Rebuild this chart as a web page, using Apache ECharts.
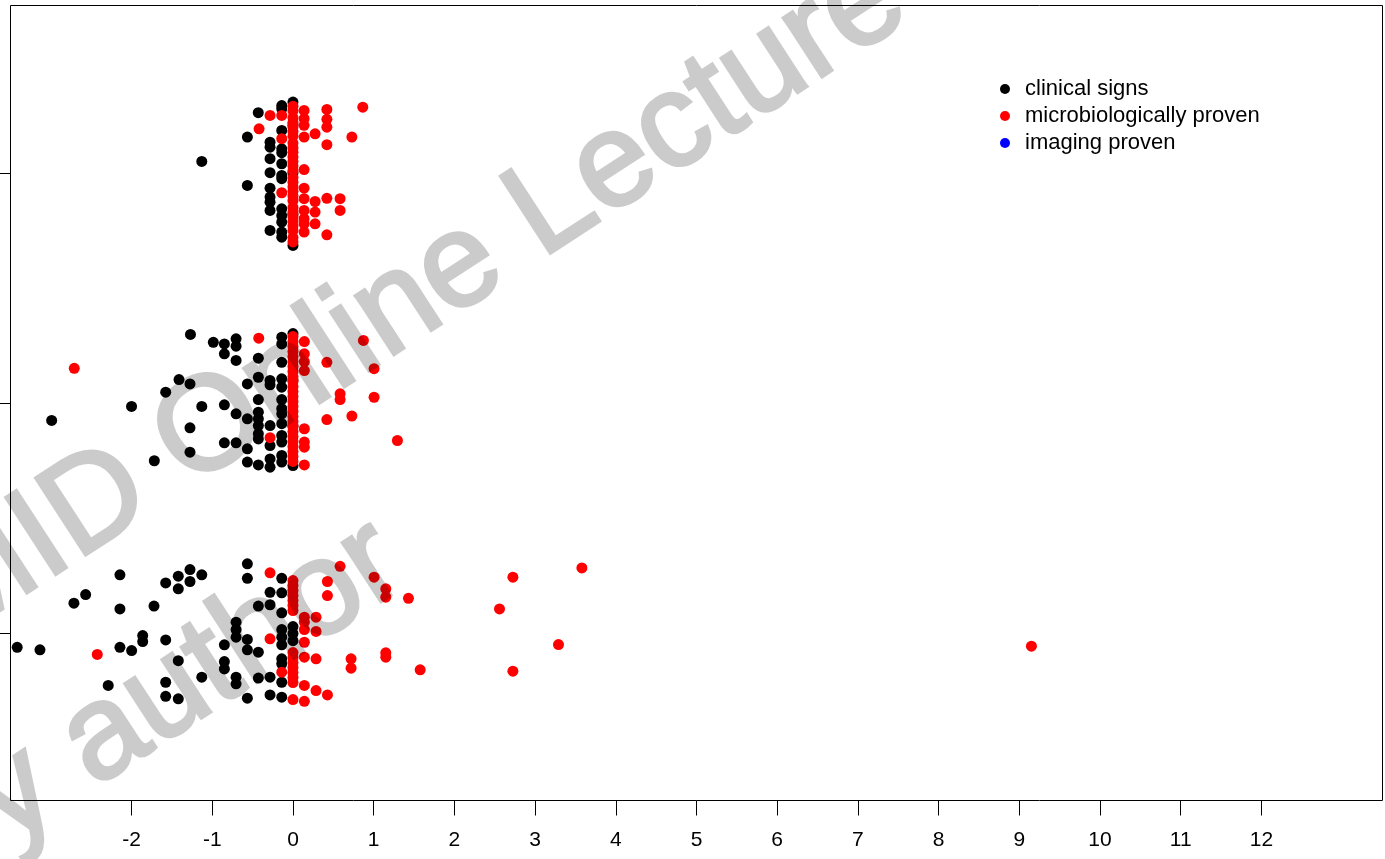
<!DOCTYPE html>
<html><head><meta charset="utf-8">
<script src="https://cdn.jsdelivr.net/npm/echarts@6/dist/echarts.min.js"></script>
<style>html,body{margin:0;padding:0;background:#fff}#c{width:1385px;height:859px}
/* watermark layer (zlevel 1) is drawn in its own canvas and faded as a whole */
#c canvas ~ canvas{opacity:0.2}</style>
</head><body><div id="c"></div>
<script>
// ---- data ----
const xTicks = [-2,-1,0,1,2,3,4,5,6,7,8,9,10,11,12];
const yTicks = [1,2,3];
const seriesNames = ['clinical signs','microbiologically proven','imaging proven'];
const seriesColors = ['#000000','#ff0000','#0000ff'];
const watermarkLines = ['ESCMID Online Lecture Library','\u00a9 by author'];

// clinical signs (black)
const clinicalTop = [
  [-1.13,3.05],[-0.565,3.156],[-0.43,3.262],[-0.565,2.946],
  [-0.284,3.134],[-0.284,3.112],[-0.284,3.062],[-0.284,3.001],[-0.284,2.934],[-0.284,2.895],[-0.284,2.873],[-0.284,2.837],[-0.284,2.75],
  [-0.139,3.293],[-0.139,3.279],[-0.139,3.185],[-0.139,3.105],[-0.139,3.088],[-0.139,3.04],[-0.139,2.989],[-0.139,2.975],[-0.139,2.844],[-0.139,2.815],[-0.139,2.786],[-0.139,2.743],[-0.139,2.721],
  [0,3.308],[0,3.21],[0,3.0],[0,2.82],[0,2.685]
];
const clinicalMid = [
  [-2.99,1.924],[-2.0,1.985],[-1.577,2.047],[-1.412,2.102],[-1.276,2.083],[-1.13,1.985],[-1.276,1.892],[-1.276,1.786],[-1.718,1.749],[-1.27,2.298],
  [-0.987,2.264],[-0.85,2.257],[-0.705,2.279],[-0.705,2.247],[-0.85,2.214],[-0.705,2.185],[-0.429,2.195],
  [-0.139,2.286],[-0.139,2.257],[-0.139,2.177],[-0.429,2.112],[-0.565,2.083],[-0.284,2.098],[-0.284,2.079],[-0.139,2.105],[-0.139,2.069],
  [-0.85,1.992],[-0.705,1.953],[-0.565,1.931],[-0.429,2.015],[-0.429,1.96],[-0.429,1.931],[-0.429,1.902],
  [-0.139,2.015],[-0.139,1.975],[-0.139,1.953],[-0.139,1.91],[-0.284,1.902],[-0.429,1.866],[-0.429,1.844],[-0.284,1.815],[-0.139,1.859],[-0.139,1.83],
  [-0.85,1.827],[-0.705,1.827],[-0.565,1.801],[-0.565,1.743],[-0.429,1.731],[-0.284,1.757],[-0.284,1.721],[-0.139,1.772],[-0.139,1.743],
  [0,2.302],[0,2.1],[0,1.9],[0,1.728]
];
const clinicalBottom = [
  [-3.417,0.938],[-3.135,0.927],[-2.714,1.13],[-2.569,1.167],[-2.289,0.772],[-2.144,1.253],[-2.144,1.105],[-2.144,0.938],[-1.999,0.924],
  [-1.862,0.989],[-1.862,0.963],[-1.722,1.117],[-1.577,1.218],[-1.577,0.97],[-1.577,0.786],[-1.577,0.725],[-1.421,1.247],[-1.421,1.192],
  [-1.421,0.88],[-1.421,0.714],[-1.276,1.276],[-1.276,1.224],[-1.13,1.253],[-1.13,0.808],
  [-0.565,1.301],[-0.565,1.238],[-0.139,1.238],[-0.284,1.177],[-0.139,1.175],[-0.429,1.117],[-0.284,1.123],[-0.139,1.088],
  [-0.705,1.047],[-0.705,1.015],[-0.705,0.982],[-0.565,0.972],[-0.85,0.949],[-0.565,0.927],[-0.429,0.917],
  [-0.139,1.015],[-0.139,0.982],[-0.139,0.949],[0,1.028],[0,0.998],[0,0.967],
  [-0.85,0.876],[-0.85,0.844],[-0.705,0.808],[-0.705,0.779],[-0.565,0.717],[-0.429,0.804],[-0.284,0.808],
  [-0.139,0.888],[-0.139,0.866],[-0.139,0.786],[-0.284,0.731],[-0.139,0.721]
];

// microbiologically proven (red)
const microTop = [
  [-0.284,3.25],[-0.139,3.25],[-0.42,3.192],[-0.139,3.149],[-0.139,2.914],
  [0,3.29],[0,3.27],[0,3.24],[0,3.22],[0,3.20],[0,3.18],[0,3.16],[0,3.13],[0,3.11],[0,3.09],[0,3.07],[0,3.05],[0,3.03],[0,3.01],
  [0,2.98],[0,2.96],[0,2.94],[0,2.92],[0,2.90],[0,2.88],[0,2.85],[0,2.83],[0,2.81],[0,2.79],[0,2.77],[0,2.75],[0,2.72],[0,2.70],
  [0.138,3.272],[0.138,3.236],[0.138,3.207],[0.138,3.156],[0.138,3.015],[0.138,2.934],[0.138,2.888],[0.138,2.837],[0.138,2.801],[0.138,2.779],[0.138,2.743],
  [0.274,3.17],[0.274,2.876],[0.274,2.83],[0.274,2.779],
  [0.42,3.276],[0.42,3.233],[0.42,3.199],[0.42,3.123],[0.42,2.89],[0.42,2.731],
  [0.584,2.888],[0.584,2.837],[0.73,3.156],[0.865,3.286]
];
const microMid = [
  [-2.71,2.151],[-0.424,2.282],[-0.284,1.849],
  [0,2.289],[0,2.267],[0,2.246],[0,2.224],[0,2.202],[0,2.180],[0,2.159],[0,2.137],[0,2.115],[0,2.093],[0,2.072],[0,2.050],[0,2.028],
  [0,2.007],[0,1.985],[0,1.963],[0,1.941],[0,1.920],[0,1.898],[0,1.876],[0,1.854],[0,1.833],[0,1.811],[0,1.789],[0,1.767],[0,1.746],
  [0.141,2.267],[0.141,2.214],[0.141,2.18],[0.141,2.141],[0.141,1.888],[0.141,1.83],[0.141,1.808],[0.141,1.731],
  [0.42,2.177],[0.42,1.928],[0.584,2.04],[0.584,2.015],[0.73,1.943],[0.873,2.272],[1.005,2.149],[1.005,2.025],[1.294,1.837]
];
const microBottom = [
  [-2.425,0.907],[-0.284,1.262],[-0.284,0.975],[-0.139,0.83],
  [0,1.228],[0,1.207],[0,1.185],[0,1.163],[0,1.141],[0,1.120],[0,1.098],[0,0.915],[0,0.893],[0,0.872],[0,0.85],[0,0.828],[0,0.807],[0,0.785],[0,0.711],
  [0.141,1.069],[0.141,1.047],[0.141,1.015],[0.141,0.96],[0.141,0.895],[0.141,0.772],[0.141,0.703],
  [0.286,1.069],[0.286,1.007],[0.286,0.888],[0.286,0.75],
  [0.427,1.224],[0.427,1.163],[0.427,0.731],
  [0.584,1.29],[0.72,0.888],[0.72,0.847],[1.005,1.243],[1.15,1.192],[1.15,1.156],[1.15,0.914],[1.15,0.895],[1.431,1.151],[1.576,0.84],
  [2.559,1.105],[2.725,1.243],[2.725,0.834],[3.29,0.95],[3.58,1.283],[9.15,0.943]
];
// imaging proven (blue): no points
const imaging = [];

// ---- chart ----
const FONT = "'Liberation Sans', Arial, sans-serif";
const chart = echarts.init(document.getElementById('c'), null, {renderer: 'canvas'});

// watermark placement (rotated 33deg), drawn opaque on zlevel 1; the layer is faded by CSS
const ang = 33 * Math.PI / 180;
const nX = Math.sin(ang), nY = Math.cos(ang);
const wmSize = 133, wmGap = 200, baseOff = 41;
const base1 = [-274.5, 793.9];
const wm = watermarkLines.map((t, i) => {
  const bx = base1[0] + i * wmGap * nX, by = base1[1] + i * wmGap * nY;
  return {
    type: 'text', x: bx - baseOff * nX, y: by - baseOff * nY, rotation: ang, zlevel: 1, z: 100, silent: true,
    style: {text: t, fontSize: wmSize, fontFamily: FONT, fill: '#000000', stroke: '#000000', lineWidth: 3.5,
            align: 'left', verticalAlign: 'middle'}
  };
});

const mk = (name, color, data) => ({
  name, type: 'scatter', data, symbol: 'circle', symbolSize: 11,
  itemStyle: {color: color, opacity: 1}, emphasis: {disabled: true}, animation: false
});

chart.setOption({
  backgroundColor: '#ffffff',
  animation: false,
  grid: {left: 10.5, top: 5.5, width: 1372, height: 795, show: true, borderColor: '#000', borderWidth: 1, backgroundColor: 'transparent'},
  legend: {
    orient: 'vertical', left: 1000, top: 78, padding: 0, itemGap: 5,
    icon: 'circle', itemWidth: 30, itemHeight: 10,
    data: seriesNames,
    textStyle: {fontSize: 22, fontFamily: FONT, color: '#000', padding: [0,0,0,0]}
  },
  xAxis: {
    type: 'value', min: -3.5, max: 13.5,
    splitLine: {show: false},
    axisLine: {show: false, onZero: false},
    axisTick: {show: true, customValues: xTicks, length: 15, inside: false, lineStyle: {color: '#000', width: 1}},
    axisLabel: {customValues: xTicks, fontSize: 21, fontFamily: FONT, color: '#000', margin: 29}
  },
  yAxis: {
    type: 'value', min: 0.272, max: 3.728,
    splitLine: {show: false},
    axisLine: {show: false, onZero: false},
    axisTick: {show: true, customValues: yTicks, length: 15, lineStyle: {color: '#000', width: 1}},
    axisLabel: {show: true, customValues: yTicks, formatter: () => '', margin: 4}
  },
  series: [
    mk(seriesNames[0], seriesColors[0], clinicalTop.concat(clinicalMid, clinicalBottom)),
    mk(seriesNames[1], seriesColors[1], microTop.concat(microMid, microBottom)),
    mk(seriesNames[2], seriesColors[2], imaging)
  ],
  graphic: wm
});
</script>
</body></html>
